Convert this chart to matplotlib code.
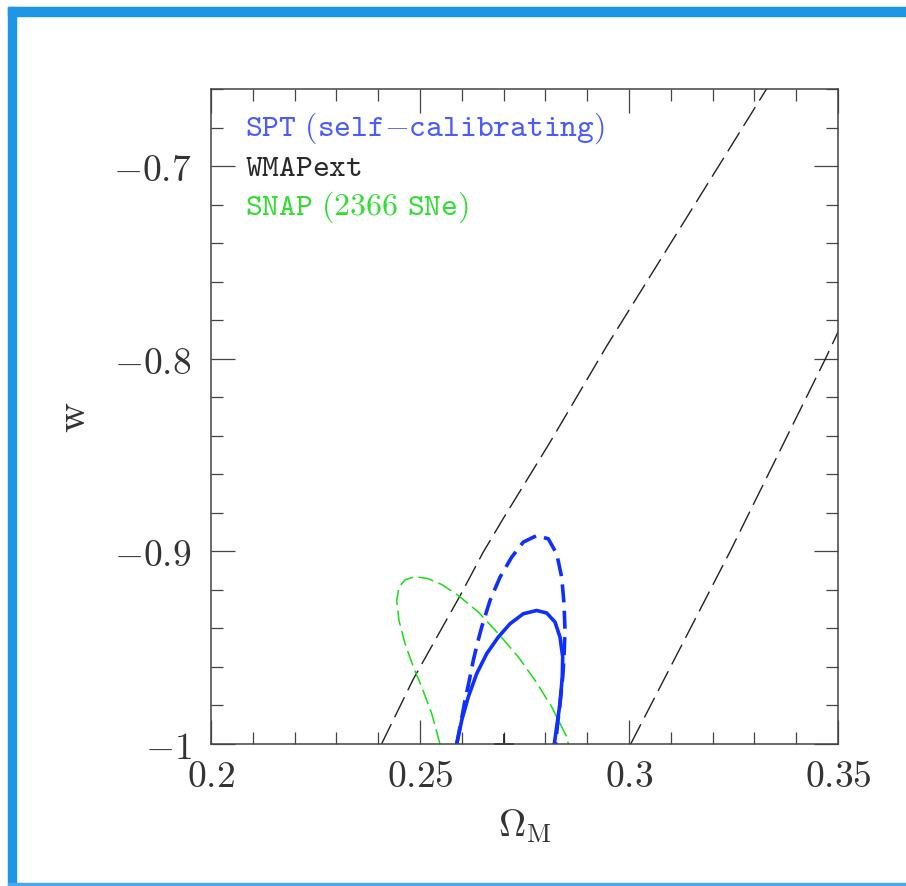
import matplotlib
matplotlib.use("Agg")
import matplotlib.pyplot as plt
from matplotlib.patches import Rectangle
from matplotlib.ticker import FixedLocator, FixedFormatter, MultipleLocator

plt.rcParams['mathtext.fontset'] = 'cm'
plt.rcParams['lines.scale_dashes'] = False

# ---- data ----
# WMAPext band edges (Omega_M, w)
wmap_left_om = [0.2408, 0.2484, 0.2596, 0.2651, 0.2699, 0.2811, 0.2947, 0.3138, 0.3329]
wmap_left_w = [-1.000, -0.9663, -0.923, -0.9005, -0.883, -0.8434, -0.7933, -0.7267, -0.660]
wmap_right_om = [0.3004, 0.3242, 0.3470, 0.3520]
wmap_right_w = [-1.000, -0.900, -0.800, -0.777]

# SPT self-calibrating: inner (solid) contour
spt_in_om = [0.25878, 0.25998, 0.26156, 0.26356, 0.26596, 0.26873, 0.27153, 0.27471,
             0.27792, 0.28031, 0.28230, 0.28349, 0.28414, 0.28404, 0.28349, 0.28270, 0.28213]
spt_in_w = [-1.0000, -0.9877, -0.9755, -0.9635, -0.9531, -0.9445, -0.9376, -0.9324,
            -0.9307, -0.9320, -0.9367, -0.9445, -0.9548, -0.9652, -0.9790, -0.9911, -1.0000]
# SPT self-calibrating: outer (dashed) contour
spt_out_om = [0.25878, 0.25974, 0.26077, 0.26180, 0.26275, 0.26371, 0.26476, 0.26675,
              0.26914, 0.27194, 0.27471, 0.27792, 0.28069, 0.28270, 0.28390, 0.28445,
              0.28469, 0.28445, 0.28414, 0.28349, 0.28285, 0.28246]
spt_out_w = [-1.0000, -0.9894, -0.9773, -0.9669, -0.9566, -0.9479, -0.9393, -0.9255,
             -0.9134, -0.9030, -0.8952, -0.8918, -0.8935, -0.9013, -0.9134, -0.9272,
             -0.9410, -0.9548, -0.9652, -0.9790, -0.9911, -1.0000]

# SNAP (2366 SNe) contour
snap_om = [0.25478, 0.25280, 0.25041, 0.24840, 0.24641, 0.24498, 0.24443, 0.24498,
           0.24641, 0.24880, 0.25199, 0.25519, 0.25916, 0.26395, 0.26873, 0.27352,
           0.27751, 0.28151, 0.28510, 0.28548]
snap_w = [-1.0000, -0.9842, -0.9704, -0.9600, -0.9479, -0.9359, -0.9255, -0.9186,
          -0.9148, -0.9131, -0.9142, -0.9172, -0.9229, -0.9315, -0.9427, -0.9548,
          -0.9669, -0.9807, -0.9963, -1.0000]

fiducial_om = [0.27]
fiducial_w = [-1.0]

labels = [r'$\mathtt{SPT\ (self}{-}\mathtt{calibrating)}$', r'$\mathtt{WMAPext}$',
          r'$\mathtt{SNAP\ (2366\ SNe)}$']
x_ticks = [0.2, 0.25, 0.3, 0.35]
x_ticklabels = ['$0.2$', '$0.25$', '$0.3$', '$0.35$']
y_ticks = [-1.0, -0.9, -0.8, -0.7]
y_ticklabels = ['$-1$', '$-0.9$', '$-0.8$', '$-0.7$']

# ---- figure ----
W, H = 906, 887
fig = plt.figure(figsize=(W / 100, H / 100), dpi=100)
fig.patch.set_facecolor('white')

# blue frame decoration
frame_c = '#1e96e8'
fig.patches.append(Rectangle((8 / W, 0), 8 / W, 1 - 8 / H, transform=fig.transFigure,
                             color=frame_c, zorder=0))
fig.patches.append(Rectangle((8 / W, 1 - 17 / H), 1, 9 / H, transform=fig.transFigure,
                             color=frame_c, zorder=0))
fig.patches.append(Rectangle((8 / W, 1 - 886 / H), 1, 2.5 / H, transform=fig.transFigure,
                             color='#4aa8ee', zorder=0))

ax = fig.add_axes([211 / W, 1 - 745 / H, (838 - 211) / W, (745 - 90) / H])
ax.set_xlim(0.2, 0.35)
ax.set_ylim(-1.0, -0.66)

blue = '#0f2fff'
green = '#14e014'

ax.plot(wmap_left_om, wmap_left_w, color='#222222', lw=1.0, dashes=(16, 5.5))
ax.plot(wmap_right_om, wmap_right_w, color='#222222', lw=1.0, dashes=(16, 5.5))
ax.plot(snap_om, snap_w, color=green, lw=1.1, dashes=(11, 4))
ax.plot(spt_out_om, spt_out_w, color=blue, lw=2.6, dashes=(13, 6))
ax.plot(spt_in_om, spt_in_w, color=blue, lw=2.6)
ax.plot(fiducial_om, fiducial_w, marker='+', ms=14, mew=1.3, color='#222222', ls='none')

# legend as coloured text
leg_colors = ['#4a5cff', '#2a2a2a', '#33dd33']
leg_y = [0.942, 0.882, 0.821]
for lab, c, yy in zip(labels, leg_colors, leg_y):
    ax.text(0.054, yy, lab, transform=ax.transAxes, color=c, fontsize=23,
            va='center', ha='left')

# ticks
ax.xaxis.set_major_locator(FixedLocator(x_ticks))
ax.xaxis.set_major_formatter(FixedFormatter(x_ticklabels))
ax.xaxis.set_minor_locator(MultipleLocator(0.01))
ax.yaxis.set_major_locator(FixedLocator(y_ticks))
ax.yaxis.set_major_formatter(FixedFormatter(y_ticklabels))
ax.yaxis.set_minor_locator(MultipleLocator(0.02))
ax.tick_params(which='both', direction='in', top=True, right=True, color='#444444', width=0.9)
ax.tick_params(which='major', length=17)
ax.tick_params(which='minor', length=8.5)
ax.tick_params(axis='x', which='major', labelsize=27, pad=10, labelcolor='#333333')
ax.tick_params(axis='y', which='major', labelsize=27, pad=14, labelcolor='#333333')
for s in ax.spines.values():
    s.set_color('#444444')
    s.set_linewidth(1.1)

ax.set_xlabel(r'$\Omega_{\rm M}$', fontsize=27, color='#333333', labelpad=9)
ax.set_ylabel(r'$\rm w$', fontsize=30, color='#333333', labelpad=14)

fig.savefig('out.png', dpi=100, facecolor='white')
